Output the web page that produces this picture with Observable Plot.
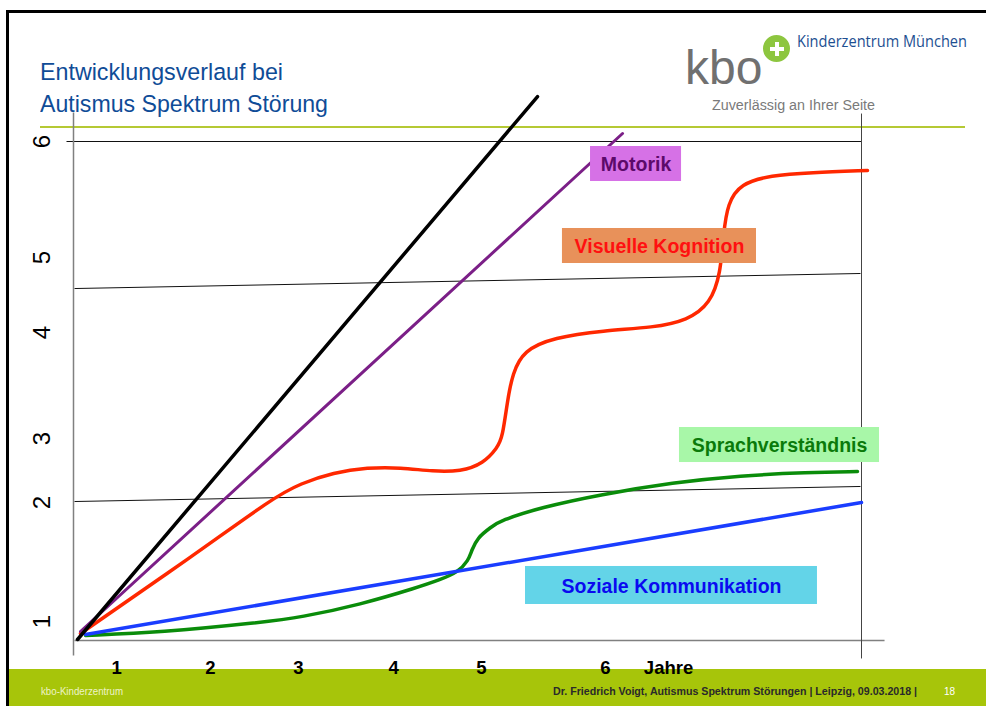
<!DOCTYPE html>
<html>
<head>
<meta charset="utf-8">
<script src="https://cdn.jsdelivr.net/npm/d3@7"></script>
<script src="https://cdn.jsdelivr.net/npm/@observablehq/plot@0.6"></script>
<style>
  html, body { margin: 0; padding: 0; background: #fff; }
  #slide { position: relative; width: 986px; height: 706px; overflow: hidden; background: #fff; font-family: "Liberation Sans", Arial, sans-serif; }
  .abs { position: absolute; white-space: nowrap; line-height: 1; transform-origin: 0 0; }
  #frame { position: absolute; left: 6px; top: 10px; width: 1000px; height: 720px; border-top: 3px solid #000; border-left: 3px solid #000; }
  #headline { position: absolute; left: 40px; top: 126px; width: 925px; height: 2px; background: #b5c934; }
  #footer { position: absolute; left: 9px; top: 669px; width: 980px; height: 40px; background: #a7c50a; }
  #dot { position: absolute; left: 761px; top: 33px; width: 31px; height: 31px; box-sizing: border-box; border: 2px solid #fff; border-radius: 50%; background: #8dc63f; }
  #dot .h { position: absolute; left: 6.5px; top: 11.5px; width: 14px; height: 4px; background: #fff; }
  #dot .v { position: absolute; left: 11.5px; top: 6.5px; width: 4px; height: 14px; background: #fff; }
  #chart { position: absolute; left: 0; top: 0; }
</style>
</head>
<body>
<div id="slide">
  <div id="frame"></div>
  <div id="headline"></div>
  <div id="footer"></div>
  <div class="abs" id="t1" style="left:40px; top:60.2px; font-size:24.5px; color:#0f4c97;">Entwicklungsverlauf bei</div>
  <div class="abs" id="t2" style="left:40px; top:92.2px; font-size:24.5px; color:#0f4c97;">Autismus Spektrum Störung</div>
  <div class="abs" id="kbo" style="left:685px; top:43.9px; font-size:48px; color:#707070; font-family:'Liberation Sans',sans-serif;">kbo</div>
  <div id="dot"><div class="h"></div><div class="v"></div></div>
  <div class="abs" id="kz" style="left:797px; top:34.2px; font-size:15.5px; color:#1d4f91; font-family:'Open Sans',sans-serif;">Kinderzentrum München</div>
  <div class="abs" id="zu" style="left:712px; top:96.9px; font-size:15.5px; color:#7a7a7a; font-family:'Liberation Sans',sans-serif;">Zuverlässig an Ihrer Seite</div>
  <div class="abs" id="f1" style="left:41px; top:686.5px; font-size:10px; color:#eef3c8; font-family:'Liberation Sans Narrow','Liberation Sans',sans-serif;">kbo-Kinderzentrum</div>
  <div class="abs" id="f2" style="left:553px; top:685.7px; font-size:11px; font-weight:bold; color:#2a2a2a; font-family:'Liberation Sans Narrow','Liberation Sans',sans-serif;">Dr. Friedrich Voigt, Autismus Spektrum Störungen | Leipzig, 09.03.2018 |</div>
  <div class="abs" id="f3" style="left:944px; top:686.5px; font-size:10px; color:#ffffff; font-family:'Liberation Sans Narrow','Liberation Sans',sans-serif;">18</div>
  <div id="chart"></div>
</div>
<script>
// ---- data (x: age axis units, y: developmental level units) ----
const yearLabels = ["1", "2", "3", "4", "5", "6"];
const yearPositions = [0.437, 1.391, 2.284, 3.249, 4.142, 5.401];
const xAxisTitle = "Jahre";
const xAxisTitlePosition = 6.041;

const levelLabels = ["1", "2", "3", "4", "5", "6"];
const levelPositions = [0.229, 1.659, 2.429, 3.703, 4.605, 5.999];

const seriesNames = ["Norm", "Motorik", "Visuelle Kognition", "Sprachverständnis", "Soziale Kommunikation"];

const normX = [0.041, 4.711];
const normY = [0.012, 6.541];

const motorikX = [0.071, 5.574];
const motorikY = [0.108, 6.096];

const visuellX = [0.071, 1.218, 2.030, 2.305, 2.640, 2.985, 3.320, 3.655, 3.929, 4.162, 4.305, 4.355, 4.406, 4.457, 4.569, 4.873, 5.381, 5.888, 6.234, 6.467, 6.569, 6.599, 6.640, 6.772, 7.076, 7.482, 8.061];
const visuellY = [0.084, 1.022, 1.719, 1.888, 2.020, 2.080, 2.080, 2.032, 2.032, 2.128, 2.321, 2.441, 2.886, 3.210, 3.487, 3.643, 3.727, 3.763, 3.848, 4.052, 4.413, 4.894, 5.254, 5.495, 5.591, 5.627, 5.651];

const sprachX = [0.122, 0.883, 1.898, 2.305, 2.914, 3.492, 3.726, 3.898, 4.010, 4.041, 4.102, 4.234, 4.335, 4.741, 5.350, 6.091, 6.772, 7.452, 7.959];
const sprachY = [0.060, 0.096, 0.216, 0.277, 0.433, 0.637, 0.733, 0.818, 0.962, 1.082, 1.238, 1.359, 1.443, 1.599, 1.755, 1.900, 1.984, 2.020, 2.032];

const sozialX = [0.122, 8.000];
const sozialY = [0.072, 1.659];

// reference/frame lines of the slide chart (x1, y1, x2, y2 in data units)
const refX1 = [-0.071, 0.010, 0.010, 0.010, 0.000, 8.000];
const refY1 = [6.000, 4.232, 1.671, 0.000, 6.348, 6.336];
const refX2 = [8.000, 7.990, 7.990, 8.234, 0.000, 8.000];
const refY2 = [6.000, 4.413, 1.852, 0.000, -0.180, -0.216];
const refKind = ["grid", "grid", "grid", "axis", "axis", "edge"];

// ---- build tables ----
const seriesXY = [[normX, normY], [motorikX, motorikY], [visuellX, visuellY], [sprachX, sprachY], [sozialX, sozialY]];
const rows = seriesNames.flatMap((name, i) => seriesXY[i][0].map((x, j) => ({series: name, x, y: seriesXY[i][1][j]})));
const refLines = refX1.map((x1, i) => ({x1, y1: refY1[i], x2: refX2[i], y2: refY2[i], kind: refKind[i]}));
const xTicks = yearLabels.map((t, i) => ({t, x: yearPositions[i]})).concat([{t: xAxisTitle, x: xAxisTitlePosition}]);
const yTicks = levelLabels.map((t, i) => ({t, y: levelPositions[i]}));

const styles = {
  "Norm": {stroke: "#000000", width: 3.5, curve: "linear"},
  "Motorik": {stroke: "#7b1f87", width: 3, curve: "linear"},
  "Visuelle Kognition": {stroke: "#ff2800", width: 3.5, curve: "basis"},
  "Sprachverständnis": {stroke: "#0a8c0a", width: 3.5, curve: "basis"},
  "Soziale Kommunikation": {stroke: "#1a3dff", width: 3.5, curve: "linear"}
};
const drawOrder = ["Sprachverständnis", "Soziale Kommunikation", "Visuelle Kognition", "Motorik", "Norm"];

// annotation boxes (layout, in data units)
const boxes = [
  {text: "Motorik", x1: 5.249, x2: 6.173, y1: 5.519, y2: 5.940, cx: 5.711, cy: 5.723, fill: "#d671e6", color: "#5c0a6a"},
  {text: "Visuelle Kognition", x1: 4.964, x2: 6.934, y1: 4.533, y2: 4.954, cx: 5.949, cy: 4.737, fill: "#e8915a", color: "#ff1010"},
  {text: "Sprachverständnis", x1: 6.152, x2: 8.183, y1: 2.140, y2: 2.561, cx: 7.168, cy: 2.345, fill: "#a8f7a8", color: "#0a7a0a"},
  {text: "Soziale Kommunikation", x1: 4.589, x2: 7.553, y1: 0.433, y2: 0.890, cx: 6.071, cy: 0.649, fill: "#63d4e8", color: "#0a0af0"}
];

const font = "Liberation Sans, Arial, sans-serif";
const refStroke = {grid: "#111", axis: "#808080", edge: "#444"};
const refWidth = {grid: 1, axis: 1.5, edge: 1};

const chart = Plot.plot({
  width: 986,
  height: 706,
  marginLeft: 73,
  marginRight: 125,
  marginTop: 141,
  marginBottom: 66,
  x: {domain: [0, 8], axis: null},
  y: {domain: [0, 6], axis: null},
  style: {background: "transparent", fontFamily: font, overflow: "visible"},
  marks: [
    Plot.link(refLines, {x1: "x1", y1: "y1", x2: "x2", y2: "y2", stroke: d => refStroke[d.kind], strokeWidth: d => refWidth[d.kind]}),
    ...drawOrder.map(name => Plot.line(rows.filter(d => d.series === name), {
      x: "x", y: "y", stroke: styles[name].stroke, strokeWidth: styles[name].width, curve: styles[name].curve
    })),
    Plot.rect(boxes, {x1: "x1", x2: "x2", y1: "y1", y2: "y2", fill: "fill"}),
    Plot.text(boxes, {x: "cx", y: "cy", text: "text", fill: "color", fontWeight: "bold", fontSize: 19.5, fontFamily: font}),
    Plot.text(yTicks, {x: () => -0.315, y: "y", text: "t", rotate: -90, fontSize: 24, fill: "#000", fontFamily: font}),
    Plot.text(xTicks, {x: "x", y: () => -0.337, text: "t", fontWeight: "bold", fontSize: 18.5, fill: "#000", fontFamily: font})
  ]
});
document.getElementById("chart").appendChild(chart);

// fit slide texts to their widths in the original
function fit(id, w) {
  const el = document.getElementById(id);
  const r = el.getBoundingClientRect().width;
  if (r > 0) el.style.transform = `scaleX(${w / r})`;
}
fit("t1", 243);
fit("t2", 288);
fit("kz", 170);
fit("zu", 163);
fit("f1", 82);
fit("f2", 364);
</script>
</body>
</html>
